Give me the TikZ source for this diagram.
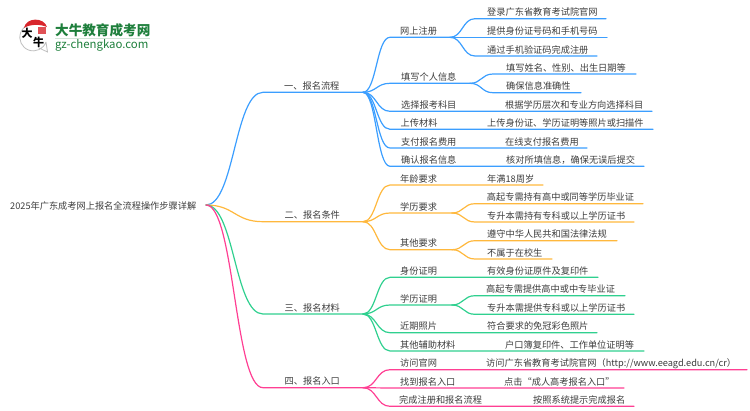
\documentclass[tikz,border=0pt]{standalone}
\usepackage{fontspec}
\usetikzlibrary{calc}
\setmainfont{Noto Sans CJK SC}
\definecolor{liuBlue}{HTML}{3B9EFF}
\definecolor{tiaoOrange}{HTML}{FFB83D}
\definecolor{cailGreen}{HTML}{2FD08F}
\definecolor{ruPink}{HTML}{FF3F93}
\definecolor{inkGrey}{HTML}{3C3C3C}
\definecolor{logoGreen}{HTML}{1E7F3C}
\definecolor{logoRed}{HTML}{D8262C}
\tikzset{
	branch/.style={line width=1.2pt, line cap=round},
	lab/.style={anchor=west, inner sep=0pt, yshift=-0.8pt, text=inkGrey, text height=8pt, text depth=1.5pt, font=\fontsize{9.2}{11}\selectfont},
	seal/.style={inner sep=0pt, font=\fontsize{11}{11}\selectfont\bfseries},
}
\def\limb[#1](#2)(#3)(#4:#5:#6)(#7)#8{\coordinate (#3s) at (#4,#6);\coordinate (#3) at (#5,#6);\coordinate (#3m) at ($(#2)!0.5!(#3s)$);\draw[branch,#1] (#2) .. controls (#3m |- #2) and (#3m |- #3s) .. (#3s) -- (#3);\node[lab] (#3T) at (#7,#6-7) {#8};}

\begin{document}
\begin{tikzpicture}[x=1pt,y=-1pt]
			%%%%% START %%%%%
			\useasboundingbox (0,0) rectangle (750,410);
			
			%% logo
			\draw[line width=0.8pt, color=black!25, fill=white] (46,42) arc (20:250:13.5) (46,42) -- (47.5,52) -- (38,47.5);
			\fill[logoRed] (24,28) .. controls (26,17) and (44,17) .. (47,27) .. controls (40,24) and (30,24) .. (24,28);
			\fill[logoRed!80] (38,27) rectangle (46,34);
			\node[seal] (logoDa) at (27,33) {大};
			\node[seal] (logoNiu) at (38.5,42) {牛};
			\node[anchor=west, inner sep=0pt, text=logoGreen, font=\fontsize{13.6}{14}\selectfont\bfseries] (logoTitle) at (55,30) {大牛教育成考网};
			\draw[line width=0.7pt, color=logoGreen!20] (55,38.3) -- (150,38.3);
			\node[anchor=west, inner sep=0pt, text=logoGreen, font=\fontsize{11.4}{12}\selectfont] (logoSite) at (55,45) {gz-chengkao.com};
			
			%% root
			\coordinate (root) at (206,205);
			\node[lab] (rootT) at (10,205) {2025年广东成考网上报名全流程操作步骤详解};
			
			%% one
			\limb[liuBlue](root)(one)(263:363:92.3)(284){一、报名流程}
			\limb[liuBlue](one)(reg)(390:450:37.3)(400){网上注册}
			\limb[liuBlue](reg)(regA)(475:606:18.7)(487){登录广东省教育考试院官网}
			\limb[liuBlue](reg)(regB)(475:607:37.3)(487){提供身份证号码和手机号码}
			\limb[liuBlue](reg)(regC)(475:597:56)(487){通过手机验证码完成注册}
			\limb[liuBlue](one)(info)(390:470:83.3)(401){填写个人信息}
			\limb[liuBlue](info)(infoA)(493:636:74)(506){填写姓名、性别、出生日期等}
			\limb[liuBlue](info)(infoB)(493:581:92.7)(506){确保信息准确性}
			\limb[liuBlue](one)(pick)(390:652:111.3)(401){选择报考科目}
			\node[lab] (pickR) at (505,104.3) {根据学历层次和专业方向选择科目};
			\limb[liuBlue](one)(upl)(390:653:129.3)(400.5){上传材料}
			\node[lab] (uplR) at (487,122.3) {上传身份证、学历证明等照片或扫描件};
			\limb[liuBlue](one)(pay)(390:587:148)(401){支付报名费用}
			\node[lab] (payR) at (505,141) {在线支付报名费用};
			\limb[liuBlue](one)(chk)(390:644:166.3)(401){确认报名信息}
			\node[lab] (chkR) at (506,159.3) {核对所填信息，确保无误后提交};
			
			%% two
			\limb[tiaoOrange](root)(two)(263:363:221.7)(284.5){二、报名条件}
			\limb[tiaoOrange](two)(age)(390:543:185)(400){年龄要求}
			\node[lab] (ageR) at (487,178) {年满18周岁};
			\limb[tiaoOrange](two)(edu)(390:452:213)(400){学历要求}
			\limb[tiaoOrange](edu)(eduA)(475:643:203.7)(486.7){高起专需持有高中或同等学历毕业证}
			\limb[tiaoOrange](edu)(eduB)(475:634:222)(487){专升本需持有专科或以上学历证书}
			\limb[tiaoOrange](two)(oth)(390:452:249.7)(400){其他要求}
			\limb[tiaoOrange](oth)(othA)(475:617:240.7)(487){遵守中华人民共和国法律法规}
			\limb[tiaoOrange](oth)(othB)(475:552:259)(487){不属于在校生}
			
			%% three
			\limb[cailGreen](root)(three)(263:363:314)(284.5){三、报名材料}
			\limb[cailGreen](three)(idc)(390:598:277.3)(400){身份证明}
			\node[lab] (idcR) at (487,270.3) {有效身份证原件及复印件};
			\limb[cailGreen](three)(cert)(390:452:305)(400){学历证明}
			\limb[cailGreen](cert)(certA)(475:625:295.7)(486){高起专需提供高中或中专毕业证}
			\limb[cailGreen](cert)(certB)(475:634:314.3)(487){专升本需提供专科或以上学历证书}
			\limb[cailGreen](three)(pho)(390:597:332.7)(400){近期照片}
			\node[lab] (phoR) at (487,325.7) {符合要求的免冠彩色照片};
			\limb[cailGreen](three)(aux)(390:644:351)(400){其他辅助材料}
			\node[lab] (auxR) at (505,344) {户口簿复印件、工作单位证明等};
			
			%% four
			\limb[ruPink](root)(four)(263:363:387.7)(284.5){四、报名入口}
			\limb[ruPink](four)(vis)(390:747:369.7)(400){访问官网}
			\node[lab] (visR) at (486,362.7) {访问广东省教育考试院官网（http://www.eeagd.edu.cn/cr）};
			\limb[ruPink](four)(fnd)(390:624:388)(400){找到报名入口}
			\node[lab] (fndR) at (504,381) {点击“成人高考报名入口”};
			\limb[ruPink](four)(fin)(390:634:406.3)(399){完成注册和报名流程}
			\node[lab] (finR) at (533,399.3) {按照系统提示完成报名};
			
			%%%%% END %%%%%
		\end{tikzpicture}
\end{document}
